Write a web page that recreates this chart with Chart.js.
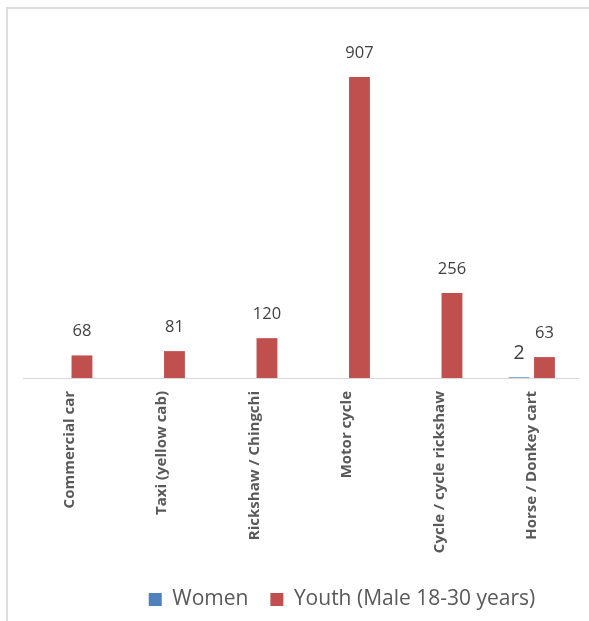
<!DOCTYPE html>
<html>
<head>
<meta charset="utf-8">
<script src="https://cdn.jsdelivr.net/npm/chart.js@4"></script>
<style>
  html, body { margin: 0; padding: 0; background: #ffffff; overflow: hidden; }
  body { width: 589px; height: 621px; position: relative; }
  #frame { position: absolute; left: 6px; top: 7px; width: 700px; height: 700px; border: 2px solid #dddddd; box-sizing: border-box; }
  #wrap { position: absolute; left: 0; top: 0; width: 661px; height: 621px; }
</style>
</head>
<body>
<div id="frame"></div>
<div id="wrap"><canvas id="c" width="661" height="621"></canvas></div>
<script>
const categories = ["Commercial car", "Taxi (yellow cab)", "Rickshaw / Chingchi", "Motor cycle", "Cycle / cycle rickshaw", "Horse / Donkey cart"];
const womenValues = [0, 0, 0, 0, 0, 2];
const youthValues = [68, 81, 120, 907, 256, 63];
const seriesNames = ["Women", "Youth (Male 18-30 years)"];

const valueLabels = {
  id: 'valueLabels',
  afterDatasetsDraw(chart) {
    const ctx = chart.ctx;
    chart.data.datasets.forEach((ds, i) => {
      const meta = chart.getDatasetMeta(i);
      if (meta.hidden) return;
      meta.data.forEach((bar, j) => {
        const v = ds.data[j];
        if (!v) return;
        ctx.save();
        ctx.font = (ds.labelFontSize || 16) + 'px "Open Sans", sans-serif';
        ctx.fillStyle = '#404040';
        ctx.textAlign = 'center';
        ctx.textBaseline = 'middle';
        ctx.fillText(String(v), bar.x, bar.y - 24);
        ctx.restore();
      });
    });
  }
};

new Chart(document.getElementById('c'), {
  type: 'bar',
  data: {
    labels: categories,
    datasets: [
      { label: seriesNames[0], data: womenValues, backgroundColor: '#4F81BD', borderWidth: 0, labelFontSize: 19.5 },
      { label: seriesNames[1], data: youthValues, backgroundColor: '#C0504D', borderWidth: 0, labelFontSize: 16.5 }
    ]
  },
  options: {
    responsive: false,
    animation: false,
    devicePixelRatio: 1,
    categoryPercentage: 0.55,
    barPercentage: 0.82,
    layout: { padding: { left: 23, right: 0, top: 46, bottom: 1 } },
    plugins: {
      legend: {
        position: 'bottom',
        labels: {
          boxWidth: 13, boxHeight: 13, padding: 22,
          color: '#595959',
          font: { family: '"Open Sans", sans-serif', size: 21 }
        }
      },
      tooltip: { enabled: false }
    },
    scales: {
      x: {
        grid: { display: true, drawOnChartArea: false, drawTicks: false },
        border: { display: true, color: '#d9d9d9', width: 1 },
        ticks: {
          minRotation: 90, maxRotation: 90, padding: 13,
          color: '#595959',
          font: { family: '"Open Sans", sans-serif', size: 15, weight: 'bold' }
        },
        afterFit(scale) { scale.height = 189; }
      },
      y: {
        display: false,
        min: 0, max: 1000
      },
      yRight: {
        position: 'right',
        display: true,
        grid: { display: false },
        border: { display: false },
        ticks: { display: false },
        afterFit(scale) { scale.width = 83; }
      }
    }
  },
  plugins: [valueLabels]
});
</script>
</body>
</html>
